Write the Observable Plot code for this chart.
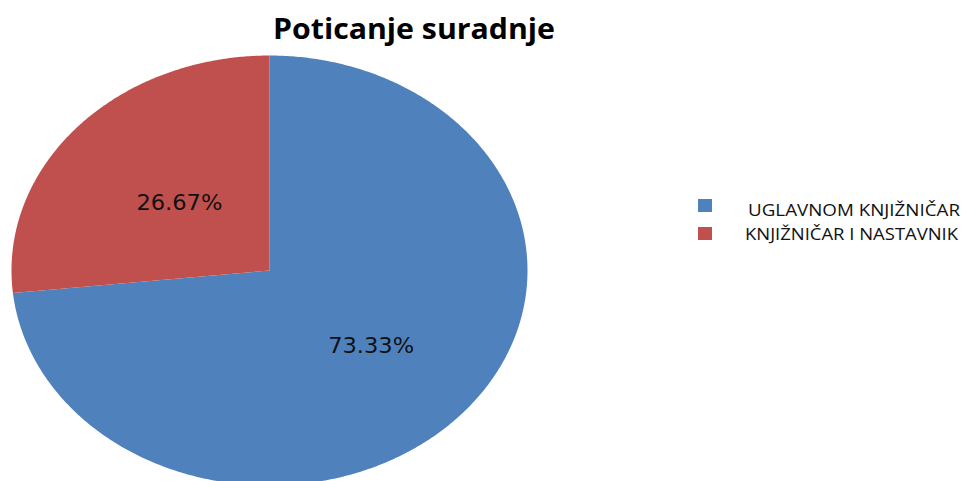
<!DOCTYPE html>
<html>
<head>
<meta charset="utf-8">
<script src="https://cdn.jsdelivr.net/npm/d3@7"></script>
<script src="https://cdn.jsdelivr.net/npm/@observablehq/plot@0.6"></script>
<style>
  html, body { margin: 0; padding: 0; background: #fff; overflow: hidden; }
  #chart { width: 963px; height: 481px; overflow: hidden; }
</style>
</head>
<body>
<div id="chart"></div>
<script>
const title = "Poticanje suradnje";
const categories = ["UGLAVNOM KNJIŽNIČAR", "KNJIŽNIČAR I NASTAVNIK"];
const values = [73.33, 26.67];
const labels = ["73.33%", "26.67%"];
const colors = ["#4F81BD", "#C0504D"];

const pie = d3.pie().sort(null).value(d => d.value).startAngle(0).endAngle(2 * Math.PI);
const arcs = pie(categories.map((name, i) => ({name, value: values[i], label: labels[i]})));

// outline points of each slice in unit-circle coordinates (angle clockwise from top)
const outline = [];
for (const a of arcs) {
  outline.push({name: a.data.name, x: 0, y: 0});
  const n = Math.max(2, Math.ceil((a.endAngle - a.startAngle) / (Math.PI / 360)));
  for (let k = 0; k <= n; k++) {
    const t = a.startAngle + (a.endAngle - a.startAngle) * k / n;
    outline.push({name: a.data.name, x: Math.sin(t), y: Math.cos(t)});
  }
  outline.push({name: a.data.name, x: 0, y: 0});
}
const labelR = [0.53, 0.47];
const labelPts = arcs.map((a, i) => {
  const m = (a.startAngle + a.endAngle) / 2;
  return {name: a.data.name, label: a.data.label, x: labelR[i] * Math.sin(m), y: labelR[i] * Math.cos(m)};
});

const plot = Plot.plot({
  width: 963,
  height: 481,
  margin: 0,
  x: {domain: [-1, 1], range: [11, 527], axis: null},
  y: {domain: [-1, 1], range: [485, 55], axis: null},
  color: {domain: categories, range: colors},
  style: {background: "#fff", overflow: "hidden"},
  marks: [
    Plot.line(outline, {x: "x", y: "y", z: "name", fill: "name", stroke: null, curve: "linear"}),
    Plot.text(labelPts, {x: "x", y: "y", text: "label", fill: "#111", fontSize: 21,
      fontFamily: "DejaVu Sans", textAnchor: "middle", lineAnchor: "middle"})
  ]
});
document.getElementById("chart").appendChild(plot);

const svg = d3.select(plot);
svg.selectAll("text").filter(function() { return this.textContent.endsWith("%"); })
  .attr("textLength", 86).attr("lengthAdjust", "spacingAndGlyphs");

svg.append("text")
  .attr("x", 414).attr("y", 39)
  .attr("text-anchor", "middle")
  .attr("font-family", "'Open Sans', 'Noto Sans', sans-serif")
  .attr("font-weight", "bold")
  .attr("font-size", 29)
  .attr("fill", "#000")
  .attr("textLength", 282)
  .attr("lengthAdjust", "spacingAndGlyphs")
  .text(title);

const legendRows = [{y: 199, ty: 216, x: 748, w: 212}, {y: 227, ty: 240, x: 745, w: 213}];
categories.forEach((c, i) => {
  const r = legendRows[i];
  svg.append("rect").attr("x", 698).attr("y", r.y).attr("width", 14).attr("height", 13).attr("fill", colors[i]);
  svg.append("text")
    .attr("x", r.x).attr("y", r.ty)
    .attr("text-anchor", "start")
    .attr("font-family", "'Open Sans', 'Noto Sans', sans-serif")
    .attr("font-size", 17)
    .attr("fill", "#111")
    .attr("textLength", r.w)
    .attr("lengthAdjust", "spacingAndGlyphs")
    .text(c);
});
</script>
</body>
</html>
